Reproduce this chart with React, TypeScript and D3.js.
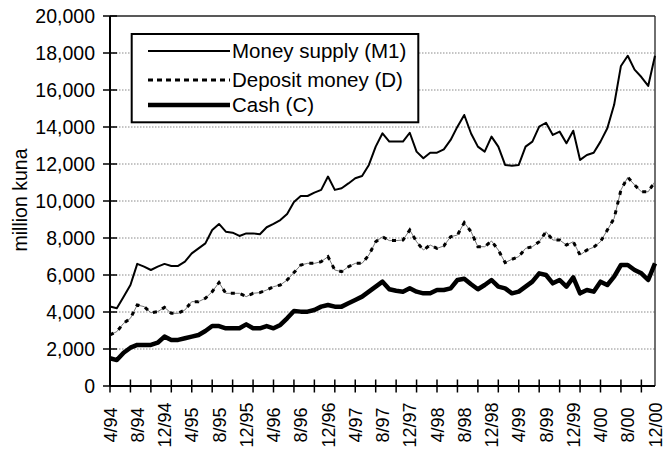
import React from "react";
import * as d3 from "d3";

const categories = [
  "4/94","5/94","6/94","7/94","8/94","9/94","10/94","11/94","12/94",
  "1/95","2/95","3/95","4/95","5/95","6/95","7/95","8/95","9/95","10/95","11/95","12/95",
  "1/96","2/96","3/96","4/96","5/96","6/96","7/96","8/96","9/96","10/96","11/96","12/96",
  "1/97","2/97","3/97","4/97","5/97","6/97","7/97","8/97","9/97","10/97","11/97","12/97",
  "1/98","2/98","3/98","4/98","5/98","6/98","7/98","8/98","9/98","10/98","11/98","12/98",
  "1/99","2/99","3/99","4/99","5/99","6/99","7/99","8/99","9/99","10/99","11/99","12/99",
  "1/00","2/00","3/00","4/00","5/00","6/00","7/00","8/00","9/00","10/00","11/00","12/00",
];

const tickLabels = [
  "4/94","8/94","12/94","4/95","8/95","12/95","4/96","8/96","12/96","4/97","8/97",
  "12/97","4/98","8/98","12/98","4/99","8/99","12/99","4/00","8/00","12/00",
];

const moneySupply = [
  4300,4200,4830,5460,6600,6450,6270,6450,6600,6490,6490,6720,7170,7440,7710,8430,
  8760,8340,8290,8110,8250,8250,8200,8580,8760,8970,9300,9950,10270,10270,10450,10600,
  11320,10600,10690,10950,11230,11350,11950,12940,13660,13210,13210,13210,13690,12670,
  12310,12610,12610,12790,13300,14020,14650,13650,12940,12670,13480,12940,11950,11900,
  11950,12940,13210,14020,14230,13570,13750,13120,13800,12220,12490,12610,13210,13930,
  15200,17300,17850,17100,16700,16220,17850,
];

const depositMoney = [
  2760,2940,3390,3660,4380,4290,3960,4020,4250,3930,3930,4110,4560,4560,4740,5100,
  5590,5010,5010,5010,4830,5010,5050,5190,5370,5460,5730,6130,6540,6630,6630,6720,
  6990,6270,6180,6450,6630,6630,7080,7800,8070,7860,7860,7890,8430,7800,
  7350,7620,7440,7570,8070,8160,8830,8340,7530,7530,7840,7350,6670,6850,
  6990,7440,7530,7800,8340,7890,7890,7620,7800,7080,7350,7500,7800,8430,
  9060,10600,11280,10870,10500,10500,11050,
];

const cash = [
  1500,1400,1800,2070,2220,2220,2220,2340,2670,2490,2490,2580,2670,2760,2970,3240,
  3240,3120,3120,3120,3330,3120,3120,3240,3120,3300,3660,4050,4020,4020,4110,4290,
  4380,4290,4290,4470,4650,4830,5100,5370,5640,5230,5150,5100,5280,5100,
  5010,5010,5190,5190,5280,5730,5800,5500,5230,5460,5730,5370,5280,5010,
  5100,5370,5640,6090,6000,5550,5730,5370,5870,5010,5190,5100,5640,5460,
  5910,6540,6540,6270,6090,5730,6630,
];

const yTicks = [0, 2000, 4000, 6000, 8000, 10000, 12000, 14000, 16000, 18000, 20000];
const legendLabels = ["Money supply (M1)", "Deposit money (D)", "Cash (C)"];

const FONT = "'Liberation Sans', Arial, sans-serif";

export default function App() {
  const left = 110, right = 655, top = 16, bottom = 386;
  const x = d3.scalePoint<string>().domain(categories).range([left, right]);
  const y = d3.scaleLinear().domain([0, 20000]).range([bottom, top]);
  const line = (vals: number[]) =>
    d3.line<number>().x((_, i) => x(categories[i]) as number).y((v) => y(v))(vals) || "";

  const tickCats = categories.filter((_, i) => i % 3 === 0);

  return (
    <svg
      width={665}
      height={454}
      style={{ position: "absolute", left: 0, top: 0, background: "#fff" }}
      fontFamily={FONT}
    >
      <rect x={0} y={0} width={665} height={454} fill="#fff" />
      {/* gridlines */}
      {yTicks.filter((t) => t > 0 && t < 20000).map((t) => (
        <line key={t} x1={left} x2={right} y1={y(t)} y2={y(t)} stroke="#8a8a8a" strokeWidth={1} strokeDasharray="1.5,1.5" />
      ))}
      {/* frame top/right */}
      <line x1={left} x2={right} y1={top} y2={top} stroke="#222" strokeWidth={1.3} />
      <line x1={right} x2={right} y1={top} y2={bottom} stroke="#222" strokeWidth={1.3} />

      {/* series */}
      <path d={line(cash)} fill="none" stroke="#000" strokeWidth={4.5} strokeLinejoin="round" />
      <path d={line(depositMoney)} fill="none" stroke="#666" strokeWidth={0.9} />
      <path d={line(depositMoney)} fill="none" stroke="#000" strokeWidth={3} strokeDasharray="4,6" />
      <path d={line(moneySupply)} fill="none" stroke="#000" strokeWidth={2} strokeLinejoin="round" />

      {/* axes */}
      <line x1={left} x2={left} y1={top} y2={bottom} stroke="#000" strokeWidth={2} />
      <line x1={left} x2={right} y1={bottom} y2={bottom} stroke="#000" strokeWidth={2} />
      {yTicks.map((t) => (
        <g key={t}>
          <line x1={left - 7} x2={left + 7} y1={y(t)} y2={y(t)} stroke="#000" strokeWidth={1.5} />
          <text x={95} y={y(t) + 7} textAnchor="end" fontSize={19.5} fill="#000">
            {d3.format(",")(t)}
          </text>
        </g>
      ))}
      {tickCats.map((c) => (
        <line key={c} x1={x(c)} x2={x(c)} y1={bottom - 6.5} y2={bottom + 6.5} stroke="#000" strokeWidth={1.5} />
      ))}
      {tickLabels.map((c) => {
        const px = (x(c) as number) + 6.5;
        const py = 425;
        return (
          <text key={c} x={px} y={py} transform={`rotate(-90 ${px} ${py})`} textAnchor="middle" fontSize={18} fill="#000">
            {c}
          </text>
        );
      })}

      {/* y axis title */}
      <text x={27} y={200} transform="rotate(-90 27 200)" textAnchor="middle" fontSize={19.5} fill="#000">
        million kuna
      </text>

      {/* legend */}
      <rect x={131.7} y={34} width={286.6} height={88.3} fill="#fff" stroke="#000" strokeWidth={2} />
      <line x1={148} x2={230} y1={51} y2={51} stroke="#000" strokeWidth={1.8} />
      <line x1={148} x2={230} y1={80} y2={80} stroke="#000" strokeWidth={3} strokeDasharray="5,4" />
      <line x1={148} x2={230} y1={105} y2={105} stroke="#000" strokeWidth={4.5} />
      {legendLabels.map((l, i) => (
        <text key={l} x={232} y={[51, 80, 105][i] + 7} fontSize={20.5} fill="#000">
          {l}
        </text>
      ))}
    </svg>
  );
}
